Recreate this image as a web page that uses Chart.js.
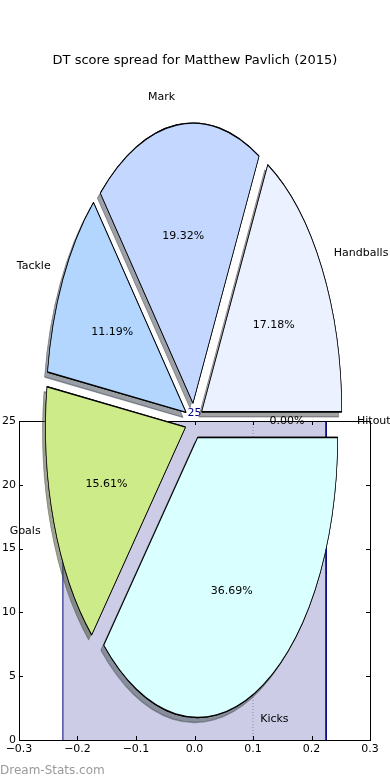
<!DOCTYPE html>
<html>
<head>
<meta charset="utf-8">
<script src="https://cdn.jsdelivr.net/npm/chart.js@4.4.1/dist/chart.umd.min.js"></script>
<style>
  html, body { margin: 0; padding: 0; background: #fff; }
  #wrap { position: relative; width: 390px; height: 780px; overflow: hidden; font-family: "DejaVu Sans", sans-serif; }
  #wrap canvas { position: absolute; left: 0; top: 0; }
  #title { position: absolute; left: 0; top: 52px; width: 390px; text-align: center; font-size: 13px; color: #000; }
  #mark { position: absolute; left: 0; top: 763px; font-size: 12px; color: #9a9a9a; }
</style>
</head>
<body>
<div id="wrap">
  <canvas id="histCanvas" width="390" height="780"></canvas>
  <canvas id="pieCanvas" width="390" height="780"></canvas>
  <div id="title">DT score spread for Matthew Pavlich (2015)</div>
  <div id="mark">Dream-Stats.com</div>
</div>
<script>
// pie slices, counter-clockwise from 3 o'clock (the way matplotlib lays them out)
const categories = ["Hitout", "Handballs", "Mark", "Tackle", "Goals", "Kicks"];
const shares = [0.00, 17.18, 19.32, 11.19, 15.61, 36.69];
const sliceColors = ["#ffffff", "#ebf1ff", "#c4d8ff", "#b3d6ff", "#ceeb8a", "#d9ffff"];

// the histogram behind the pie (a single bin)
const binLeft = [-0.225];
const binRight = [0.225];
const binCounts = [25];
const markerX = [0.1];
const xTicks = [-0.3, -0.2, -0.1, 0.0, 0.1, 0.2, 0.3];
const yTicks = [0, 5, 10, 15, 20, 25];

const FONT = "DejaVu Sans";
const stretchY = 2.0;    // the pie axes is not square, so the pie is an ellipse
const explodePx = 9;     // how far every wedge is pulled out

// ---------- background histogram ----------
let histPoints = [];
binLeft.forEach((l, i) => {
  histPoints.push({x: l, y: 0}, {x: l, y: binCounts[i]}, {x: binRight[i], y: binCounts[i]}, {x: binRight[i], y: 0});
});
let markerPoints = [{x: markerX[0], y: yTicks[0]}, {x: markerX[0], y: yTicks[yTicks.length - 1]}];

function fmtTick(v) {
  return v.toFixed(1).replace("-", "\u2212");
}

const histDecor = {
  id: "histDecor",
  afterDatasetsDraw(chart) {
    const {ctx, scales: {x, y}} = chart;
    ctx.save();
    ctx.fillStyle = "#000080";
    ctx.font = "11px " + FONT;
    ctx.textAlign = "center";
    ctx.textBaseline = "bottom";
    binCounts.forEach((c, i) => {
      ctx.fillText(String(c), x.getPixelForValue((binLeft[i] + binRight[i]) / 2), y.getPixelForValue(c) - 2);
    });
    ctx.restore();
  },
  afterDraw(chart) {
    const {ctx, chartArea: a, scales: {x, y}} = chart;
    ctx.save();
    ctx.strokeStyle = "#000";
    ctx.lineWidth = 1;
    ctx.beginPath();
    xTicks.forEach(v => {
      const px = Math.round(x.getPixelForValue(v)) + 0.5;
      ctx.moveTo(px, a.bottom); ctx.lineTo(px, a.bottom - 4);
      ctx.moveTo(px, a.top); ctx.lineTo(px, a.top + 4);
    });
    yTicks.forEach(v => {
      const py = Math.round(y.getPixelForValue(v)) + 0.5;
      ctx.moveTo(a.left, py); ctx.lineTo(a.left + 4, py);
      ctx.moveTo(a.right, py); ctx.lineTo(a.right - 4, py);
    });
    ctx.stroke();
    ctx.strokeRect(Math.round(a.left) + 0.5, Math.round(a.top) + 0.5, Math.round(a.right - a.left), Math.round(a.bottom - a.top));
    ctx.restore();
  }
};

new Chart(document.getElementById("histCanvas"), {
  type: "scatter",
  data: {
    datasets: [
      {
        data: histPoints,
        showLine: true,
        fill: "origin",
        tension: 0,
        backgroundColor: "rgba(0, 0, 128, 0.2)",
        borderColor: "#000080",
        borderWidth: 1,
        pointRadius: 0
      },
      {
        data: markerPoints,
        showLine: true,
        fill: false,
        borderColor: "#aaaaaa",
        borderWidth: 1,
        borderDash: [1, 2],
        pointRadius: 0
      }
    ]
  },
  options: {
    responsive: false,
    animation: false,
    events: [],
    layout: {padding: {left: 0, right: 20, top: 421, bottom: 0}},
    plugins: {legend: {display: false}, tooltip: {enabled: false}},
    scales: {
      x: {
        type: "linear",
        min: -0.3,
        max: 0.3,
        afterBuildTicks: s => { s.ticks = xTicks.map(v => ({value: v})); },
        afterFit: s => { s.height = 40; },
        grid: {display: false, drawTicks: false},
        border: {display: false},
        ticks: {color: "#000", font: {family: FONT, size: 11}, padding: 3, maxRotation: 0, callback: v => fmtTick(v)}
      },
      y: {
        type: "linear",
        min: 0,
        max: 25,
        afterBuildTicks: s => { s.ticks = yTicks.map(v => ({value: v})); },
        afterFit: s => { s.width = 19; },
        grid: {display: false, drawTicks: false},
        border: {display: false},
        ticks: {color: "#000", font: {family: FONT, size: 11}, padding: 3}
      }
    }
  },
  plugins: [histDecor]
});

// ---------- exploded, shadowed pie on top ----------
// chart.js goes clockwise, matplotlib counter-clockwise: reverse the order
const order = categories.map((c, i) => i).reverse();

function shadowOf(hex) {
  const n = parseInt(hex.slice(1), 16);
  const r = Math.round(((n >> 16) & 255) * 0.3);
  const g = Math.round(((n >> 8) & 255) * 0.3);
  const b = Math.round((n & 255) * 0.3);
  return "rgba(" + r + "," + g + "," + b + ",0.5)";
}

// draw each arc pushed out along its middle angle
function drawExploded(ctx, arc, withShadow, colour) {
  const mid = (arc.startAngle + arc.endAngle) / 2;
  ctx.save();
  ctx.translate(Math.cos(mid) * explodePx, Math.sin(mid) * explodePx);
  if (withShadow) {
    ctx.shadowColor = shadowOf(colour);
    ctx.shadowOffsetX = -3;
    ctx.shadowOffsetY = 5;
    ctx.shadowBlur = 0;
  }
  arc.draw(ctx);
  ctx.restore();
}

const ellipsePie = {
  id: "ellipsePie",
  beforeDatasetsDraw(chart) {
    const ctx = chart.ctx;
    const arcs = chart.getDatasetMeta(0).data;
    const cx = arcs[0].x, cy = arcs[0].y;
    ctx.save();
    ctx.translate(cx, cy);
    ctx.scale(1, stretchY);
    ctx.translate(-cx, -cy);
    // all shadows first so they sit under every wedge
    arcs.forEach((arc, j) => drawExploded(ctx, arc, true, sliceColors[order[j]]));
    arcs.forEach((arc, j) => drawExploded(ctx, arc, false));
    ctx.restore();

    // percentages and names
    ctx.save();
    ctx.fillStyle = "#000";
    ctx.font = "11px " + FONT;
    ctx.textBaseline = "middle";
    arcs.forEach((arc, j) => {
      const k = order[j];
      const mid = (arc.startAngle + arc.endAngle) / 2;
      const R = arc.outerRadius;
      const px = f => arc.x + (explodePx + f * R) * Math.cos(mid);
      const py = f => arc.y + (explodePx + f * R) * Math.sin(mid) * stretchY;
      ctx.textAlign = "center";
      ctx.fillText(shares[k].toFixed(2) + "%", px(0.6), py(0.6));
      ctx.textAlign = Math.cos(mid) > 0 ? "left" : "right";
      ctx.fillText(categories[k], px(1.1), py(1.1));
    });
    ctx.restore();
    return false;
  }
};

new Chart(document.getElementById("pieCanvas"), {
  type: "pie",
  data: {
    labels: order.map(i => categories[i]),
    datasets: [{
      data: order.map(i => shares[i]),
      backgroundColor: order.map(i => sliceColors[i]),
      borderColor: "#000",
      borderWidth: 0.7,
      offset: 0,
      clip: false
    }]
  },
  options: {
    responsive: false,
    animation: false,
    events: [],
    rotation: 90,
    radius: 140,
    layout: {padding: {left: 0, right: 2, top: 62, bottom: 0}},
    plugins: {legend: {display: false}, tooltip: {enabled: false}}
  },
  plugins: [ellipsePie]
});
</script>
</body>
</html>
